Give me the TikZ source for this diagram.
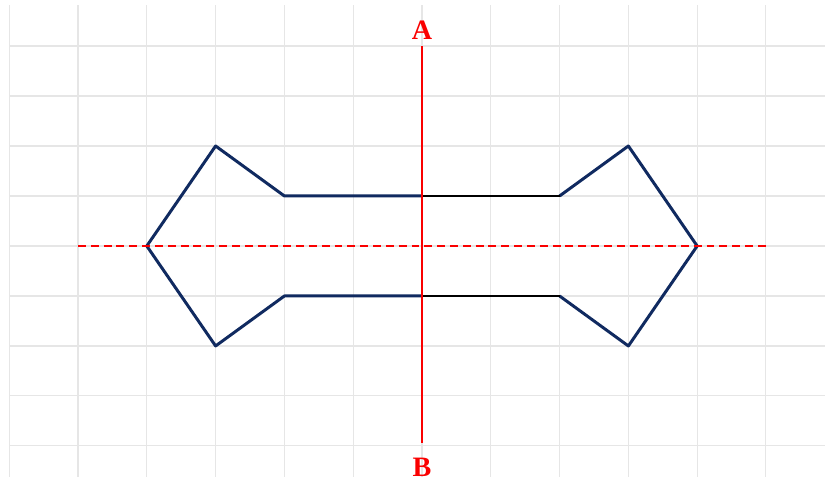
\documentclass[tikz,border=0pt]{standalone}
\usepackage{fontspec}
\setmainfont{Liberation Serif}
\definecolor{gridG}{RGB}{230,230,230}
\definecolor{boneN}{RGB}{16,42,96}
\definecolor{axR}{RGB}{250,0,0}

\begin{document}
\begin{tikzpicture}[x=1.376cm,y=1cm]
  \tikzset{gridln/.style={draw=gridG,line width=0.6pt},
    bone/.style={draw=boneN,line width=1.7pt,line join=round},
    thin/.style={draw=black,line width=1pt},
    axis/.style={draw=axR,line width=1.6pt},
    mirror/.style={draw=axR,line width=1.1pt,dash pattern=on 4.5pt off 2.8pt},
    lbl/.style={text=axR,font=\fontsize{16}{19}\selectfont\bfseries,inner sep=0pt}}
  \useasboundingbox (-6.134,-4.72) rectangle (5.858,4.92);
  % background grid
  \foreach \i in {-6,...,5} \draw[gridln] (\i,-4.62) -- (\i,4.82);
  \foreach \j in {-4,...,4} \draw[gridln] (-6,\j) -- (5.858,\j);
  % outline corners
  \coordinate (tipL) at (-4,0);  \coordinate (tipR) at (4,0);
  \coordinate (upL) at (-3,2);   \coordinate (upR) at (3,2);
  \coordinate (loL) at (-3,-2);  \coordinate (loR) at (3,-2);
  \coordinate (nuL) at (-2,1);   \coordinate (nuR) at (2,1);
  \coordinate (ndL) at (-2,-1);  \coordinate (ndR) at (2,-1);
  \coordinate (midU) at (0,1);   \coordinate (midD) at (0,-1);
  % left half thick, right bars thin
  \draw[bone] (midU) -- (nuL) -- (upL) -- (tipL) -- (loL) -- (ndL) -- (midD);
  \draw[bone] (nuR) -- (upR) -- (tipR) -- (loR) -- (ndR);
  \draw[thin] (midU) -- (nuR);
  \draw[thin] (midD) -- (ndR);
  % symmetry lines
  \coordinate (dashL) at (-5,0); \coordinate (dashR) at (5,0);
  \draw[mirror] (dashL) -- (dashR);
  \node[lbl] (ptA) at (0,4.32) {A};
  \node[lbl] (ptB) at (0,-4.42) {B};
  \coordinate (axTop) at (0,4); \coordinate (axBot) at (0,-3.94);
  \draw[axis] (axTop) -- (axBot);
\end{tikzpicture}
\end{document}
